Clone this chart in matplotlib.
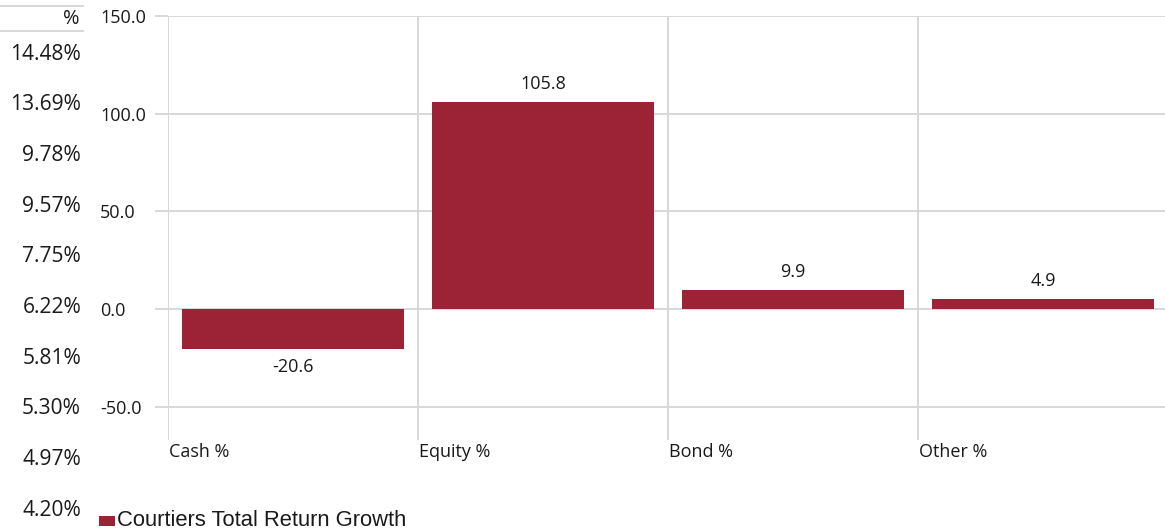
import matplotlib
matplotlib.use("Agg")
import matplotlib.pyplot as plt
import matplotlib.transforms as mtransforms
from matplotlib.patches import Rectangle
from matplotlib.lines import Line2D

# ---- data ----
categories = ["Cash %", "Equity %", "Bond %", "Other %"]
values = [-20.6, 105.8, 9.9, 4.9]
value_labels = ["-20.6", "105.8", "9.9", "4.9"]
yticks = [-50, 0, 50, 100, 150]
side_header = "%"
side_values = ["14.48%", "13.69%", "9.78%", "9.57%", "7.75%",
               "6.22%", "5.81%", "5.30%", "4.97%", "4.20%"]
series_name = "Courtiers Total Return Growth"

W, H = 1165, 532
bar_color = "#9c2236"
grid_color = "#d9d9d9"
text_color = "#1a1a1a"
main_font = "Open Sans"
pt = 0.72  # px -> pt at dpi 100

fig = plt.figure(figsize=(W / 100, H / 100), dpi=100, facecolor="w")
ax = fig.add_axes([168 / W, 1 - 440 / H, 1 - 168 / W, (440 - 16) / H])

x = list(range(len(categories)))
ax.bar(x, values, width=0.89, color=bar_color, zorder=3)

ax.set_xlim(-0.5, 3.5 - 3 / 250)
ax.set_ylim(-67.1, 150)

# horizontal grid + left tick stubs
ax.set_yticks(yticks)
ax.set_yticklabels(["%.1f" % t for t in yticks], fontfamily=main_font,
                   fontsize=18 * pt, color=text_color, ha="left")
ax.tick_params(axis="y", length=13 * pt, width=2 * pt, color=grid_color,
               pad=55 * pt)
ax.yaxis.grid(True, color=grid_color, linewidth=2 * pt, zorder=0)

# vertical boundaries between categories
ax.set_xticks([])
for b in [-0.5, 0.5, 1.5, 2.5]:
    ax.axvline(b, color=grid_color, linewidth=2 * pt, zorder=1)

for s in ax.spines.values():
    s.set_visible(False)

# value labels
for xi, v, lab in zip(x, values, value_labels):
    off = 18 if v >= 0 else -18
    ax.annotate(lab, (xi, v), xytext=(0, off * pt), textcoords="offset points",
                ha="center", va="center", fontsize=18 * pt,
                fontfamily=main_font, color=text_color)

# category labels, left aligned on the boundaries
trans = mtransforms.blended_transform_factory(ax.transData, fig.transFigure)
for xi, c in zip(x, categories):
    ax.text(xi - 0.5 + 0.004, 1 - 452 / H, c, transform=trans, ha="left",
            va="center", fontsize=18 * pt, fontfamily=main_font,
            color=text_color)

# side column of percentages
for yy in (6, 31):
    fig.add_artist(Line2D([0, 83 / W], [1 - yy / H, 1 - yy / H],
                          color=grid_color, linewidth=2 * pt))
fig.text(80 / W, 1 - 19 / H, side_header, ha="right", va="center",
         fontsize=20 * pt, fontfamily=main_font, color=text_color)
for i, s in enumerate(side_values):
    fig.text(81 / W, 1 - (54 + 50.7 * i) / H, s, ha="right", va="center",
             fontsize=21 * pt, fontfamily=main_font, color=text_color)

# legend
fig.add_artist(Rectangle((99 / W, 1 - 526 / H), 16 / W, 10 / H,
                         facecolor=bar_color, edgecolor="none"))
fig.text(117 / W, 1 - 520 / H, series_name, ha="left", va="center",
         fontsize=22 * pt, fontfamily="Liberation Sans", color=text_color)

fig.savefig("out.png", dpi=100)
